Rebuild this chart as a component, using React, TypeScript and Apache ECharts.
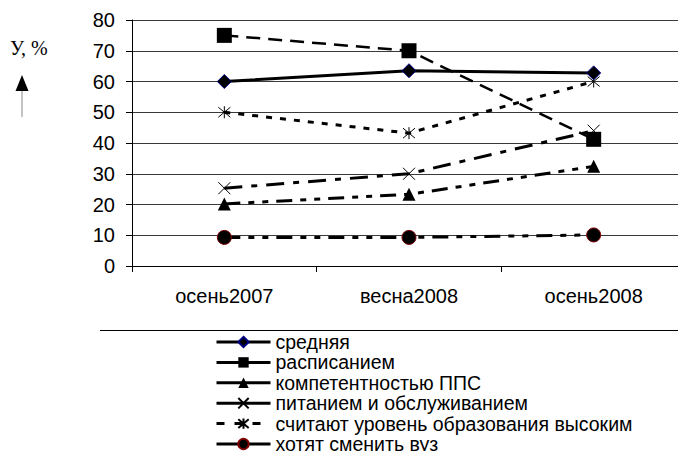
import React, { useEffect, useRef } from "react";
import * as echarts from "echarts";

const categories = ["осень2007", "весна2008", "осень2008"];
const yTicks = { min: 0, max: 80, interval: 10 };

const seriesNames = [
  "средняя",
  "расписанием",
  "компетентностью ППС",
  "питанием и обслуживанием",
  "считают уровень образования высоким",
  "хотят сменить вуз",
];
const avgValues = [60, 63.5, 62.8];
const scheduleValues = [75, 70, 41.2];
const competenceValues = [20.2, 23.3, 32.4];
const foodValues = [25.3, 30, 44];
const highLevelValues = [50, 43.2, 60];
const changeValues = [9.3, 9.3, 10.1];

const CROSS = "path://M0,0L10,10M10,0L0,10";
const STAR = "path://M0,0L10,10M10,0L0,10M5,-1L5,11";

export default function App() {
  const ref = useRef<HTMLDivElement>(null);
  useEffect(() => {
    const chart = echarts.init(ref.current!, undefined, { renderer: "svg" });
    const font = "'Liberation Sans', Arial, sans-serif";
    const line = (dash: any, width = 3) => ({ color: "#000", width, type: dash });
    const legends = seriesNames.map((name, i) => ({
      orient: "vertical",
      left: 215,
      top: 332 + i * 20.4,
      padding: 0,
      itemWidth: 54,
      itemHeight: 13,
      lineStyle: { width: 3, type: i === 4 ? [8, 10] : "solid" },
      textStyle: { color: "#000", fontSize: 19.5, fontFamily: font },
      data: [name],
    }));
    chart.setOption({
      animation: false,
      grid: { left: 132, top: 20, width: 568, height: 246 },
      xAxis: {
        type: "category",
        data: categories,
        boundaryGap: true,
        axisLine: { lineStyle: { color: "#000", width: 1 } },
        axisTick: { show: true, length: 6, lineStyle: { color: "#000" } },
        axisLabel: { color: "#000", fontSize: 20, fontFamily: font, margin: 20 },
      },
      yAxis: {
        type: "value",
        min: yTicks.min,
        max: yTicks.max,
        interval: yTicks.interval,
        axisLine: { show: true, lineStyle: { color: "#000", width: 1 } },
        axisTick: { show: true, length: 6, lineStyle: { color: "#000" } },
        axisLabel: { color: "#000", fontSize: 20, fontFamily: font, margin: 17 },
        splitLine: { lineStyle: { color: "#3a3a3a", width: 1 } },
      },
      legend: legends,
      graphic: [
        {
          type: "text",
          left: 10,
          top: 38,
          style: { text: "У, %", fontSize: 20, fontFamily: "'Liberation Serif', 'Times New Roman', serif", fill: "#000" },
        },
        {
          type: "polygon",
          shape: { points: [[22, 75], [15.5, 91], [28.5, 91]] },
          style: { fill: "#000" },
        },
        {
          type: "line",
          shape: { x1: 22, y1: 91, x2: 22, y2: 117 },
          style: { stroke: "#888", lineWidth: 1 },
        },
        {
          type: "line",
          shape: { x1: 100, y1: 330.5, x2: 686, y2: 330.5 },
          style: { stroke: "#000", lineWidth: 1 },
        },
      ],
      series: [
        {
          name: seriesNames[0],
          type: "line",
          data: avgValues,
          symbol: "diamond",
          symbolSize: 14,
          itemStyle: { color: "#000", borderColor: "#000080", borderWidth: 1 },
          lineStyle: line("solid"),
          z: 6,
        },
        {
          name: seriesNames[1],
          type: "line",
          data: scheduleValues,
          symbol: "rect",
          symbolSize: 15,
          itemStyle: { color: "#000" },
          lineStyle: line([14, 8], 2.5),
        },
        {
          name: seriesNames[2],
          type: "line",
          data: competenceValues,
          symbol: "triangle",
          symbolSize: 13,
          itemStyle: { color: "#000" },
          lineStyle: line([16, 8, 6, 8, 6, 8]),
        },
        {
          name: seriesNames[3],
          type: "line",
          data: foodValues,
          symbol: CROSS,
          symbolSize: 12,
          itemStyle: { color: "none", borderColor: "#000", borderWidth: 1 },
          lineStyle: line([18, 9, 6, 9]),
        },
        {
          name: seriesNames[4],
          type: "line",
          data: highLevelValues,
          symbol: STAR,
          symbolSize: 12,
          itemStyle: { color: "none", borderColor: "#000", borderWidth: 1 },
          lineStyle: line([6, 8]),
        },
        {
          name: seriesNames[5],
          type: "line",
          data: changeValues,
          symbol: "circle",
          symbolSize: 14,
          itemStyle: { color: "#000", borderColor: "#800000", borderWidth: 1 },
          lineStyle: line([16, 8, 6, 8, 6, 8]),
        },
      ],
    });
    return () => chart.dispose();
  }, []);
  return <div ref={ref} style={{ width: 686, height: 459, margin: -8 }} />;
}
